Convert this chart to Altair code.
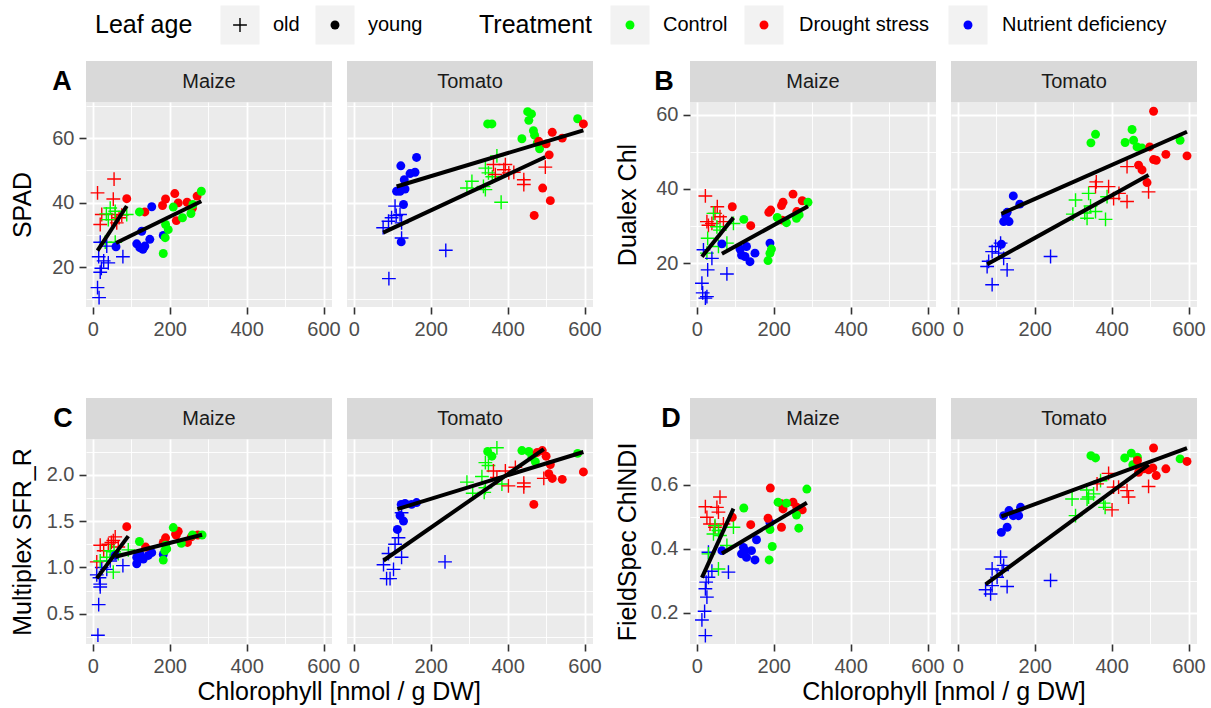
import altair as alt
import pandas as pd

FONT = "Liberation Sans"

# ------------------------------------------------------------------ data
# group codes: first letter = leaf age (o = old, y = young)
# second letter = treatment (C = Control, D = Drought stress, N = Nutrient deficiency)

# ---- A: SPAD
A_MAIZE_X = [12, 55, 53, 23, 19, 58, 49, 68, 75, 62,
             45, 58, 88, 32, 58, 40, 35,
             19, 15, 28, 19, 12, 16, 40, 78, 36, 22,
             60, 153, 127, 114, 122, 135, 148, 183, 130,
             88, 135, 181, 189, 213, 222, 217, 245, 259, 271,
             121, 209, 233, 189, 196, 188, 183, 255, 260, 282]
A_MAIZE_Y = [43.0, 47.3, 41.1, 36.3, 33.2, 36.3, 34.7, 35.3, 36.1, 33.7,
             38.3, 37.3, 36.3, 27.7, 27.7, 34.7, 36.5,
             27.7, 23.2, 21.9, 18.4, 13.6, 10.5, 21.3, 23.2, 26.5, 19.6,
             26.3, 38.7, 31.1, 27.2, 26.0, 26.5, 28.6, 29.8, 25.5,
             41.2, 37.1, 39.1, 41.1, 42.8, 39.9, 34.4, 40.1, 38.3, 42.0,
             37.1, 38.6, 35.3, 33.2, 31.6, 29.1, 24.2, 36.6, 39.4, 43.5]
A_MAIZE_G = ["oD"] * 10 + ["oC"] * 7 + ["oN"] * 10 + ["yN"] * 9 + ["yD"] * 10 + ["yC"] * 10

A_TOMATO_X = [76, 90, 98, 107, 120, 124, 124, 239, 91, 110,
              372, 342, 350, 307, 294, 337, 342, 383, 360,
              363, 394, 368, 403, 416, 442, 442, 498, 390,
              122, 163, 146, 159, 131, 111, 120, 133, 129, 123,
              348, 359, 452, 462, 455, 582, 467, 470, 437, 483, 477,
              597, 516, 542, 481, 500, 508, 491, 511, 469]
A_TOMATO_Y = [32.2, 34.2, 35.3, 38.9, 36.3, 33.7, 29.0, 25.2, 16.4, 36.0,
              54.5, 50.7, 49.2, 46.6, 44.5, 45.0, 44.0, 40.1, 48.0,
              51.8, 51.8, 48.7, 49.2, 49.4, 47.1, 45.6, 51.0, 50.2,
              51.4, 54.0, 49.0, 49.4, 47.1, 43.5, 43.5, 44.2, 39.4, 27.8,
              64.4, 64.4, 68.2, 67.5, 65.5, 66.0, 62.3, 60.9, 59.8, 56.7, 58.5,
              64.4, 61.8, 60.0, 59.0, 58.2, 54.8, 44.5, 40.6, 36.0]
A_TOMATO_G = ["oN"] * 10 + ["oC"] * 9 + ["oD"] * 9 + ["yN"] * 10 + ["yC"] * 11 + ["yD"] * 9

# ---- B: Dualex Chl
B_MAIZE_X = [22, 53, 26, 39, 60, 69, 47, 30,
             43, 52, 95, 28, 78, 56, 26, 60,
             17, 39, 28, 78, 13, 15, 26, 22,
             65, 112, 129, 116, 138, 151, 190, 125,
             92, 140, 187, 192, 220, 224, 250, 274, 260, 222,
             122, 209, 233, 259, 266, 289, 194, 190, 185]
B_MAIZE_Y = [38.1, 35.2, 31.2, 30.7, 32.5, 31.2, 33.4, 30.2,
             33.4, 29.8, 30.7, 26.7, 25.4, 24.5, 22.7, 28.9,
             23.6, 21.3, 18.2, 17.1, 14.6, 12.0, 11.0, 10.6,
             25.2, 23.8, 24.5, 22.2, 20.4, 22.7, 25.4, 21.8,
             35.2, 30.1, 33.7, 34.3, 35.5, 36.4, 38.6, 36.8, 33.9, 31.6,
             31.8, 32.3, 30.9, 32.1, 33.0, 36.4, 23.8, 22.7, 20.7]
B_MAIZE_G = ["oD"] * 8 + ["oC"] * 8 + ["oN"] * 8 + ["yN"] * 8 + ["yD"] * 10 + ["yC"] * 9

B_TOMATO_X = [76, 89, 98, 111, 106, 119, 128, 89, 241, 80,
              144, 161, 128, 119, 133, 113, 124,
              306, 340, 299, 345, 336, 384, 358, 388, 330,
              346, 358, 453, 435, 457, 466, 479, 578,
              440, 360, 392, 405, 419, 440, 496, 358,
              509, 499, 541, 596, 509, 516, 470, 479, 492]
B_TOMATO_Y = [19.1, 23.1, 24.5, 25.4, 22.7, 21.3, 18.2, 14.2, 21.8, 20.5,
              38.1, 35.9, 33.7, 31.2, 31.2, 25.1, 33.0,
              37.0, 38.8, 33.2, 35.4, 32.1, 31.8, 33.9, 37.9, 33.5,
              52.4, 54.7, 56.0, 52.5, 53.1, 51.3, 51.0, 53.1,
              46.0, 41.9, 40.6, 37.4, 38.8, 36.6, 39.2, 40.6,
              60.9, 51.3, 49.3, 48.9, 47.9, 47.7, 46.4, 45.1, 41.7]
B_TOMATO_G = ["oN"] * 10 + ["yN"] * 7 + ["oC"] * 9 + ["yC"] * 8 + ["oD"] * 8 + ["yD"] * 9

# ---- C: Multiplex SFR_R
C_MAIZE_X = [13, 15, 19, 17, 10, 23, 36, 78, 45, 19,
             19, 40, 53, 28, 66, 58, 10, 48,
             19, 45, 66, 92, 53, 36, 55,
             58, 114, 122, 131, 144, 153, 183, 114,
             88, 137, 183, 189, 217, 222, 246, 256, 273, 215,
             121, 209, 230, 189, 187, 183, 259, 284, 192]
C_MAIZE_Y = [0.27, 0.60, 0.82, 0.89, 0.92, 1.00, 0.98, 1.02, 1.07, 0.79,
             1.24, 1.25, 1.29, 1.18, 1.22, 1.33, 1.06, 1.27,
             1.07, 1.18, 1.15, 1.19, 0.95, 1.11, 1.17,
             1.13, 1.04, 1.15, 1.09, 1.13, 1.16, 1.14, 1.11,
             1.44, 1.22, 1.27, 1.32, 1.35, 1.39, 1.27, 1.33, 1.35, 1.36,
             1.28, 1.43, 1.26, 1.24, 1.18, 1.08, 1.35, 1.35, 1.20]
C_MAIZE_G = ["oN"] * 10 + ["oD"] * 8 + ["oC"] * 7 + ["yN"] * 8 + ["yD"] * 10 + ["yC"] * 9

C_TOMATO_X = [77, 90, 107, 116, 103, 85, 94, 124, 237, 124,
              123, 133, 150, 163, 120, 129, 113,
              372, 342, 350, 294, 333, 309, 342, 339, 385,
              348, 359, 437, 455, 463, 472, 582,
              363, 394, 372, 420, 402, 442, 442, 494,
              477, 490, 500, 511, 507, 516, 542, 597, 468]
C_TOMATO_Y = [1.03, 1.15, 1.25, 1.32, 0.98, 0.88, 0.88, 1.11, 1.06, 1.59,
              1.68, 1.69, 1.68, 1.70, 1.56, 1.50, 1.41,
              2.29, 2.13, 2.10, 1.92, 1.98, 1.80, 1.86, 1.81, 1.90,
              2.25, 2.20, 2.26, 2.25, 2.19, 2.14, 2.23,
              2.04, 2.04, 1.97, 2.08, 1.88, 1.91, 1.87, 1.96,
              2.24, 2.26, 2.20, 2.11, 2.01, 1.96, 1.95, 2.03, 1.68]
C_TOMATO_G = ["oN"] * 10 + ["yN"] * 7 + ["oC"] * 9 + ["yC"] * 7 + ["oD"] * 8 + ["yD"] * 9

# ---- D: FieldSpec ChlNDI
D_MAIZE_X = [22, 13, 20, 26, 22, 24, 30, 39, 82, 30,
             22, 26, 60, 52, 56, 34, 69, 47,
             30, 43, 56, 60, 95, 78, 56, 47,
             65, 116, 125, 129, 142, 151, 155, 190, 121,
             92, 140, 191, 185, 220, 224, 220, 250, 260, 274,
             122, 211, 233, 190, 196, 188, 259, 265, 286]
D_MAIZE_Y = [0.129, 0.178, 0.205, 0.249, 0.275, 0.296, 0.311, 0.330, 0.327, 0.389,
             0.531, 0.498, 0.561, 0.529, 0.514, 0.477, 0.477, 0.467,
             0.384, 0.446, 0.457, 0.441, 0.467, 0.410, 0.337, 0.472,
             0.394, 0.384, 0.394, 0.373, 0.394, 0.365, 0.428, 0.481, 0.404,
             0.498, 0.475, 0.589, 0.495, 0.540, 0.524, 0.467, 0.545, 0.529, 0.521,
             0.527, 0.545, 0.542, 0.460, 0.407, 0.365, 0.505, 0.464, 0.586]
D_MAIZE_G = ["oN"] * 10 + ["oD"] * 8 + ["oC"] * 8 + ["yN"] * 9 + ["yD"] * 10 + ["yC"] * 9

D_TOMATO_X = [72, 85, 89, 89, 102, 111, 119, 128, 115, 241,
              113, 128, 119, 133, 144, 163, 158,
              297, 306, 335, 340, 353, 371, 379, 383, 336,
              346, 358, 434, 451, 467, 455, 474, 578,
              392, 362, 405, 418, 440, 444, 401, 496,
              509, 467, 470, 483, 496, 507, 516, 541, 596]
D_TOMATO_Y = [0.272, 0.259, 0.285, 0.337, 0.311, 0.374, 0.348, 0.282, 0.332, 0.301,
              0.451, 0.467, 0.503, 0.519, 0.503, 0.529, 0.503,
              0.555, 0.503, 0.583, 0.561, 0.571, 0.612, 0.542, 0.529, 0.555,
              0.690, 0.683, 0.683, 0.698, 0.685, 0.662, 0.654, 0.680,
              0.635, 0.602, 0.592, 0.592, 0.581, 0.561, 0.521, 0.594,
              0.714, 0.675, 0.638, 0.649, 0.646, 0.652, 0.628, 0.649, 0.672]
D_TOMATO_G = ["oN"] * 10 + ["yN"] * 7 + ["oC"] * 9 + ["yC"] * 8 + ["oD"] * 8 + ["yD"] * 9

AGE_NAMES = {"o": "old", "y": "young"}
TRT_NAMES = {"C": "Control", "D": "Drought stress", "N": "Nutrient deficiency"}
TRT_ORDER = ["Control", "Drought stress", "Nutrient deficiency"]
TRT_COLORS = ["#00FF00", "#FF0000", "#0000FF"]

X_TITLE = "Chlorophyll [nmol / g DW]"
X_TICKS = [0, 100, 200, 300, 400, 500, 600]


def frame(xs, ys, gs):
    return pd.DataFrame({
        "x": xs, "y": ys,
        "age": [AGE_NAMES[g[0]] for g in gs],
        "trt": [TRT_NAMES[g[1]] for g in gs],
    })


PANELS = [
    dict(letter="A", ytitle="SPAD", maize=frame(A_MAIZE_X, A_MAIZE_Y, A_MAIZE_G),
         tomato=frame(A_TOMATO_X, A_TOMATO_Y, A_TOMATO_G),
         ydom=[7.6, 71.2], yvals=[10, 20, 30, 40, 50, 60, 70],
         major="datum.value % 20 === 0", fmt="d", tpad=16.5, ldx=-24, bottom=False),
    dict(letter="B", ytitle="Dualex Chl", maize=frame(B_MAIZE_X, B_MAIZE_Y, B_MAIZE_G),
         tomato=frame(B_TOMATO_X, B_TOMATO_Y, B_TOMATO_G),
         ydom=[8.2, 63.4], yvals=[10, 20, 30, 40, 50, 60],
         major="datum.value % 20 === 0", fmt="d", tpad=15, ldx=-26, bottom=False),
    dict(letter="C", ytitle="Multiplex SFR_R", maize=frame(C_MAIZE_X, C_MAIZE_Y, C_MAIZE_G),
         tomato=frame(C_TOMATO_X, C_TOMATO_Y, C_TOMATO_G),
         ydom=[0.175, 2.385], yvals=[0.25, 0.5, 0.75, 1.0, 1.25, 1.5, 1.75, 2.0, 2.25],
         major="abs(datum.value * 2 - round(datum.value * 2)) < 1e-6", fmt=".1f", tpad=11, ldx=-23,
         bottom=True),
    dict(letter="D", ytitle="FieldSpec ChlNDI", maize=frame(D_MAIZE_X, D_MAIZE_Y, D_MAIZE_G),
         tomato=frame(D_TOMATO_X, D_TOMATO_Y, D_TOMATO_G),
         ydom=[0.103, 0.742], yvals=[0.2, 0.3, 0.4, 0.5, 0.6, 0.7],
         major="abs(datum.value * 5 - round(datum.value * 5)) < 1e-6", fmt=".1f", tpad=9.6, ldx=-19,
         bottom=True),
]

# ------------------------------------------------------------------ style
W, H = 246, 205
GAP = 6            # between Maize and Tomato panels (label overhang adds ~8 px)
BLOCK_GAP = 13     # between panel blocks A|B and C|D
STRIP = 41
XDOM = [-18, 622]
X_MAJOR = "datum.value % 200 === 0"
CROSS = "M-1,0H1M0,-1V1"
DOT_SIZE = 80
CROSS_SIZE = 190
PANEL_BG = "#EBEBEB"


def cond(test, a, b):
    return {"condition": {"test": test, "value": a}, "value": b}


def x_axis():
    return alt.Axis(values=X_TICKS, title=None,
                    labelExpr=f"({X_MAJOR}) ? datum.label : ''",
                    gridWidth=cond(X_MAJOR, 1.8, 0.9),
                    tickOpacity=cond(X_MAJOR, 1, 0),
                    labelFlush=False, labelOverlap=False)


def y_axis(p, first):
    if first:
        return alt.Axis(values=p["yvals"], title=p["ytitle"], format=p["fmt"],
                        labelExpr=f"({p['major']}) ? datum.label : ''",
                        gridWidth=cond(p["major"], 1.8, 0.9),
                        tickOpacity=cond(p["major"], 1, 0),
                        titlePadding=p["tpad"], labelOverlap=False, labelFlush=False)
    return alt.Axis(values=p["yvals"], title=None, labels=False, ticks=False,
                    gridWidth=cond(p["major"], 1.8, 0.9))


def sub(p, species, first):
    df = p["maize"] if first else p["tomato"]
    base = alt.Chart(df)
    x = alt.X("x:Q", scale=alt.Scale(domain=XDOM, nice=False, zero=False), axis=x_axis())
    y = alt.Y("y:Q", scale=alt.Scale(domain=p["ydom"], nice=False, zero=False),
              axis=y_axis(p, first))
    col = alt.Color("trt:N", scale=alt.Scale(domain=TRT_ORDER, range=TRT_COLORS), legend=None)

    one = alt.Chart(pd.DataFrame({"k": [0]}))
    strip = one.mark_rect(color="#D9D9D9").encode(
        x=alt.value(0), x2=alt.value(W), y=alt.value(-STRIP), y2=alt.value(0))
    stext = one.mark_text(text=species, font=FONT, fontSize=20, color="#1A1A1A",
                          baseline="middle", align="center").encode(
        x=alt.value(W / 2), y=alt.value(-STRIP / 2))

    dots = base.transform_filter("datum.age === 'young'").mark_circle(
        size=DOT_SIZE, opacity=1).encode(x=x, y=y, color=col)
    crosses = base.transform_filter("datum.age === 'old'").mark_point(
        shape=CROSS, size=CROSS_SIZE, filled=False, strokeWidth=1.4, opacity=1).encode(
        x=x, y=y, color=col)
    lines = base.transform_regression("x", "y", groupby=["age"]).mark_line(
        color="black", strokeWidth=4).encode(x=x, y=y, detail="age:N")

    layers = [strip, stext, crosses, dots, lines]
    if first:
        layers.append(one.mark_text(text=p["letter"], font=FONT, fontSize=27, fontWeight="bold",
                                    color="black", align="center", baseline="middle").encode(
            x=alt.value(p["ldx"]), y=alt.value(-20)))
    return alt.layer(*layers).properties(
        width=W, height=H, view=alt.ViewBackground(fill=PANEL_BG, stroke=None))


def panel(p):
    kw = {}
    if p["bottom"]:
        kw["title"] = alt.TitleParams(X_TITLE, orient="bottom", anchor="middle",
                                      font=FONT, fontSize=25, color="black", fontWeight="normal",
                                      offset=4, dx=33.5)
    return alt.hconcat(sub(p, "Maize", True), sub(p, "Tomato", False), spacing=GAP,
                       **kw).resolve_scale(x="independent", y="independent")


# ------------------------------------------------------------------ legend (drawn by hand)
# the legend view's origin lines up with the left edge of the first plot panel
ORIGIN = 86
PAD_L = 10
LEG_H = 46
KEY_HALF = 19.5
LY = 25
leg_keys = pd.DataFrame({
    "cx": [240 - ORIGIN, 335 - ORIGIN, 630 - ORIGIN, 764 - ORIGIN, 968 - ORIGIN],
    "kind": ["cross", "dot", "dot", "dot", "dot"],
    "color": ["black", "black"] + TRT_COLORS,
})
leg_keys["x1"] = leg_keys["cx"] - KEY_HALF
leg_keys["x2"] = leg_keys["cx"] + KEY_HALF
leg_titles = pd.DataFrame({"px": [95 - ORIGIN, 479 - ORIGIN], "label": ["Leaf age", "Treatment"]})
leg_labels = pd.DataFrame({
    "px": [273 - ORIGIN, 368 - ORIGIN, 663 - ORIGIN, 799 - ORIGIN, 1002 - ORIGIN],
    "label": ["old", "young"] + TRT_ORDER,
})
lx = lambda f: alt.X(f, scale=None, axis=None)
leg_rect = alt.Chart(leg_keys).mark_rect(color="#F2F2F2").encode(
    x=lx("x1:Q"), x2="x2:Q", y=alt.value(LY - KEY_HALF), y2=alt.value(LY + KEY_HALF))
leg_cross = alt.Chart(leg_keys).transform_filter("datum.kind === 'cross'").mark_point(
    shape=CROSS, size=CROSS_SIZE, filled=False, strokeWidth=1.4, opacity=1).encode(
    x=lx("cx:Q"), y=alt.value(LY), color=alt.Color("color:N", scale=None))
leg_dot = alt.Chart(leg_keys).transform_filter("datum.kind === 'dot'").mark_circle(
    size=DOT_SIZE, opacity=1).encode(
    x=lx("cx:Q"), y=alt.value(LY), color=alt.Color("color:N", scale=None))
leg_t = alt.Chart(leg_titles).mark_text(font=FONT, fontSize=25, color="black", align="left",
                                         baseline="middle").encode(
    x=lx("px:Q"), y=alt.value(LY), text="label:N")
leg_l = alt.Chart(leg_labels).mark_text(font=FONT, fontSize=20, color="black", align="left",
                                         baseline="middle").encode(
    x=lx("px:Q"), y=alt.value(LY), text="label:N")
legend = alt.layer(leg_rect, leg_cross, leg_dot, leg_t, leg_l).properties(
    width=1100, height=LEG_H, view=alt.ViewBackground(fill="white", stroke=None))

# ------------------------------------------------------------------ assemble
row1 = alt.hconcat(panel(PANELS[0]), panel(PANELS[1]), spacing=BLOCK_GAP).resolve_scale(
    x="independent", y="independent")
row2 = alt.hconcat(panel(PANELS[2]), panel(PANELS[3]), spacing=BLOCK_GAP).resolve_scale(
    x="independent", y="independent")
rows = alt.vconcat(row1, row2, spacing=59).resolve_scale(x="independent", y="independent")

chart = alt.vconcat(legend, rows, spacing=15, padding={"left": PAD_L, "top": 0, "right": 0, "bottom": 0}
                    ).resolve_scale(x="independent", y="independent").configure(
    font=FONT, background="white"
).configure_view(stroke=None).configure_axis(
    domain=False, gridColor="white", tickColor="#333333", tickSize=7, tickWidth=1.6,
    labelColor="#4D4D4D", labelFontSize=20, labelPadding=5, labelFont=FONT,
    titleFont=FONT, titleFontSize=25, titleColor="black", titleFontWeight="normal"
)

chart.save("out.html", embed_options={"renderer": "svg", "actions": False})
